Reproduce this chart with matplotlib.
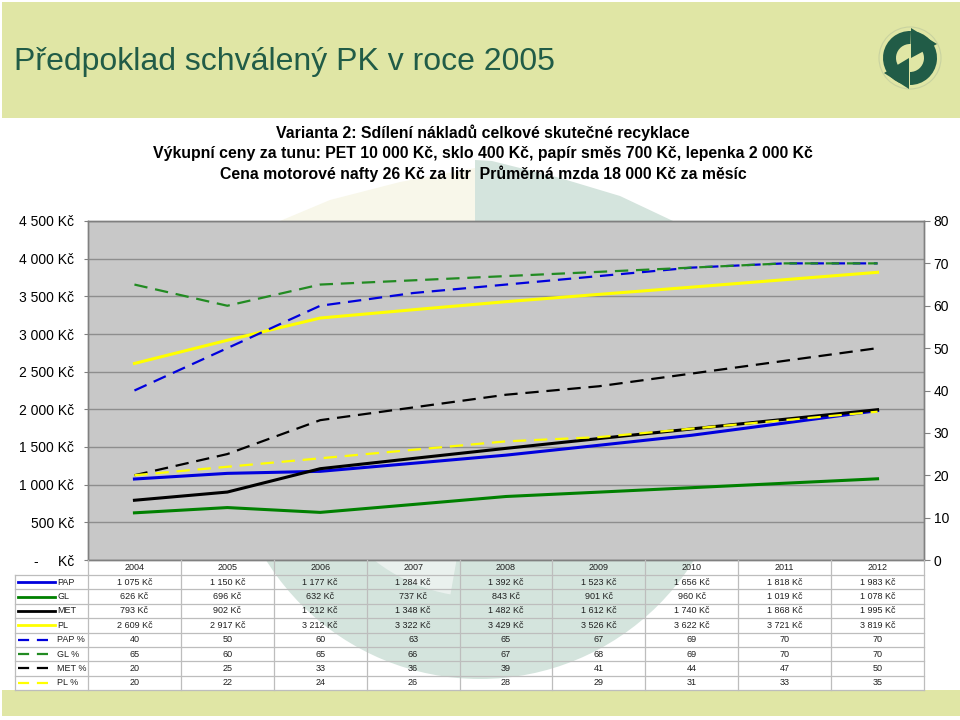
import matplotlib
matplotlib.use('Agg')
import matplotlib.pyplot as plt
from matplotlib.patches import Rectangle, Circle, Polygon, Wedge
from matplotlib.ticker import FuncFormatter, MultipleLocator
import numpy as np

plt.rcParams['font.family'] = ['Liberation Sans', 'DejaVu Sans']

# ---------------- data ----------------
years = ['2004', '2005', '2006', '2007', '2008', '2009', '2010', '2011', '2012']
PAP = [1075, 1150, 1177, 1284, 1392, 1523, 1656, 1818, 1983]
GL = [626, 696, 632, 737, 843, 901, 960, 1019, 1078]
MET = [793, 902, 1212, 1348, 1482, 1612, 1740, 1868, 1995]
PL = [2609, 2917, 3212, 3322, 3429, 3526, 3622, 3721, 3819]
PAP_pct = [40, 50, 60, 63, 65, 67, 69, 70, 70]
GL_pct = [65, 60, 65, 66, 67, 68, 69, 70, 70]
MET_pct = [20, 25, 33, 36, 39, 41, 44, 47, 50]
PL_pct = [20, 22, 24, 26, 28, 29, 31, 33, 35]

series_names = ['PAP', 'GL', 'MET', 'PL', 'PAP %', 'GL %', 'MET %', 'PL %']
series_vals = [PAP, GL, MET, PL, PAP_pct, GL_pct, MET_pct, PL_pct]
series_colors = ['#0000DD', '#008000', '#000000', '#FFFF00',
                 '#0000DD', '#228B22', '#000000', '#FFFF00']
series_pct = [False, False, False, False, True, True, True, True]

title = 'Předpoklad schválený PK v roce 2005'
subtitle = ['Varianta 2: Sdílení nákladů celkové skutečné recyklace',
            'Výkupní ceny za tunu: PET 10 000 Kč, sklo 400 Kč, papír směs 700 Kč, lepenka 2 000 Kč',
            'Cena motorové nafty 26 Kč za litr  Průměrná mzda 18 000 Kč za měsíc']

BAND = '#E0E6A5'
DARKGREEN = '#215C47'


def kc(v):
    if v == 0:
        return '-     Kč'
    return f'{int(v):,}'.replace(',', ' ') + ' Kč'


fig = plt.figure(figsize=(9.6, 7.2), dpi=100)
fig.patch.set_facecolor('white')

# background / decoration axes in pixel coordinates
bg = fig.add_axes([0, 0, 1, 1], zorder=0)
bg.set_xlim(0, 960)
bg.set_ylim(720, 0)
bg.axis('off')

bg.add_patch(Rectangle((2, 2), 958, 116, color=BAND, lw=0))
bg.add_patch(Rectangle((2, 690), 958, 26, color=BAND, lw=0))

# faint watermark of the logo
bg.add_patch(Polygon([(280, 221), (330, 200), (400, 182), (475, 168), (475, 221)],
                     closed=True, color='#F8F7EA', lw=0))
bg.add_patch(Polygon([(475, 160), (492, 161), (560, 178), (620, 196), (673, 221), (475, 221)],
                     closed=True, color='#D4E4DD', lw=0))
wm = Circle((480, 427), 252, color='#D4E4DD', lw=0)
bg.add_patch(wm)
wm.set_clip_path(Rectangle((0, 560), 960, 130, transform=bg.transData))
wm2 = Wedge((480, 427), 170, 100, 150, color='#EAF1EE', lw=0)
bg.add_patch(wm2)
wm2.set_clip_path(Rectangle((0, 560), 960, 130, transform=bg.transData))

# title
bg.text(14, 62, title, fontsize=23, color=DARKGREEN, va='center', ha='left')

# logo
cx, cy = 910, 58
bg.add_patch(Circle((cx, cy), 31, fill=False, ec='#C9D3A0', lw=0.8))
bg.add_patch(Wedge((cx, cy), 27, 110, 272, width=13, color=DARKGREEN, lw=0))
bg.add_patch(Polygon([(911, 28), (911, 58), (937, 44)], closed=True, color=DARKGREEN, lw=0))
bg.add_patch(Wedge((cx, cy), 27, -75, 90, width=13, color=DARKGREEN, lw=0))
bg.add_patch(Polygon([(909, 58), (909, 89), (884, 73)], closed=True, color=DARKGREEN, lw=0))

# subtitles
for i, s in enumerate(subtitle):
    bg.text(483, 133 + 20.5 * i, s, fontsize=11.4, fontweight='bold', ha='center', va='center',
            color='#000000')

# ---------------- chart ----------------
L, R, T, B = 88, 924, 221, 560
ax = fig.add_axes([L / 960, 1 - B / 720, (R - L) / 960, (B - T) / 720], zorder=2)
ax.set_facecolor('#C8C8C8')
ax2 = ax.twinx()

x = np.arange(len(years))
ax.set_xlim(-0.5, len(years) - 0.5)
ax.set_ylim(0, 4500)
ax2.set_ylim(0, 80)

ax.yaxis.set_major_locator(MultipleLocator(500))
ax2.yaxis.set_major_locator(MultipleLocator(10))
ax.yaxis.set_major_formatter(FuncFormatter(lambda v, p: kc(v)))
ax.grid(axis='y', color='#8E8E8E', lw=1)
ax.set_axisbelow(True)
ax.set_xticks([])
ax2.set_xticks([])

for a in (ax, ax2):
    for sp in a.spines.values():
        sp.set_color('#808080')
        sp.set_linewidth(1)
ax.tick_params(axis='y', length=3, width=0.8, color='#808080', pad=7, labelsize=10, labelcolor='#000000')
ax2.tick_params(axis='y', length=4, width=0.8, color='#808080', pad=3, labelsize=10, labelcolor='#000000')

for name, vals, col, pct in zip(series_names, series_vals, series_colors, series_pct):
    if pct:
        ax2.plot(x, vals, color=col, lw=1.6, dashes=(6, 3.5), zorder=3)
    else:
        ax.plot(x, vals, color=col, lw=2.2, zorder=3)

# ---------------- data table ----------------
cw = (R - L) / len(years)
row_h = (690 - 575) / len(series_names)
tab = fig.add_axes([0, 0, 1, 1], zorder=3)
tab.set_xlim(0, 960)
tab.set_ylim(720, 0)
tab.axis('off')
gc = '#BDBDBD'
for k in range(len(years) + 1):
    tab.plot([L + k * cw, L + k * cw], [B, 690], color=gc, lw=0.9)
tab.plot([15, 15], [575, 690], color=gc, lw=0.9)
for i in range(len(series_names) + 1):
    yy = 575 + i * row_h
    tab.plot([15, R], [yy, yy], color=gc, lw=0.9)

for k, yr in enumerate(years):
    tab.text(L + (k + 0.5) * cw, 567.5, yr, fontsize=6.5, ha='center', va='center', color='#202020')

for i, (name, vals, col, pct) in enumerate(zip(series_names, series_vals, series_colors, series_pct)):
    yc = 575 + (i + 0.5) * row_h
    if pct:
        tab.plot([18, 55], [yc, yc], color=col, lw=1.6, dashes=(5, 3.5))
    else:
        tab.plot([18, 55], [yc, yc], color=col, lw=2.0)
    tab.text(57, yc, name, fontsize=6.5, ha='left', va='center', color='#202020')
    for k, v in enumerate(vals):
        txt = str(v) if pct else kc(v)
        tab.text(L + (k + 0.5) * cw, yc, txt, fontsize=6.5, ha='center', va='center', color='#202020')

fig.savefig('out.png', dpi=100)
